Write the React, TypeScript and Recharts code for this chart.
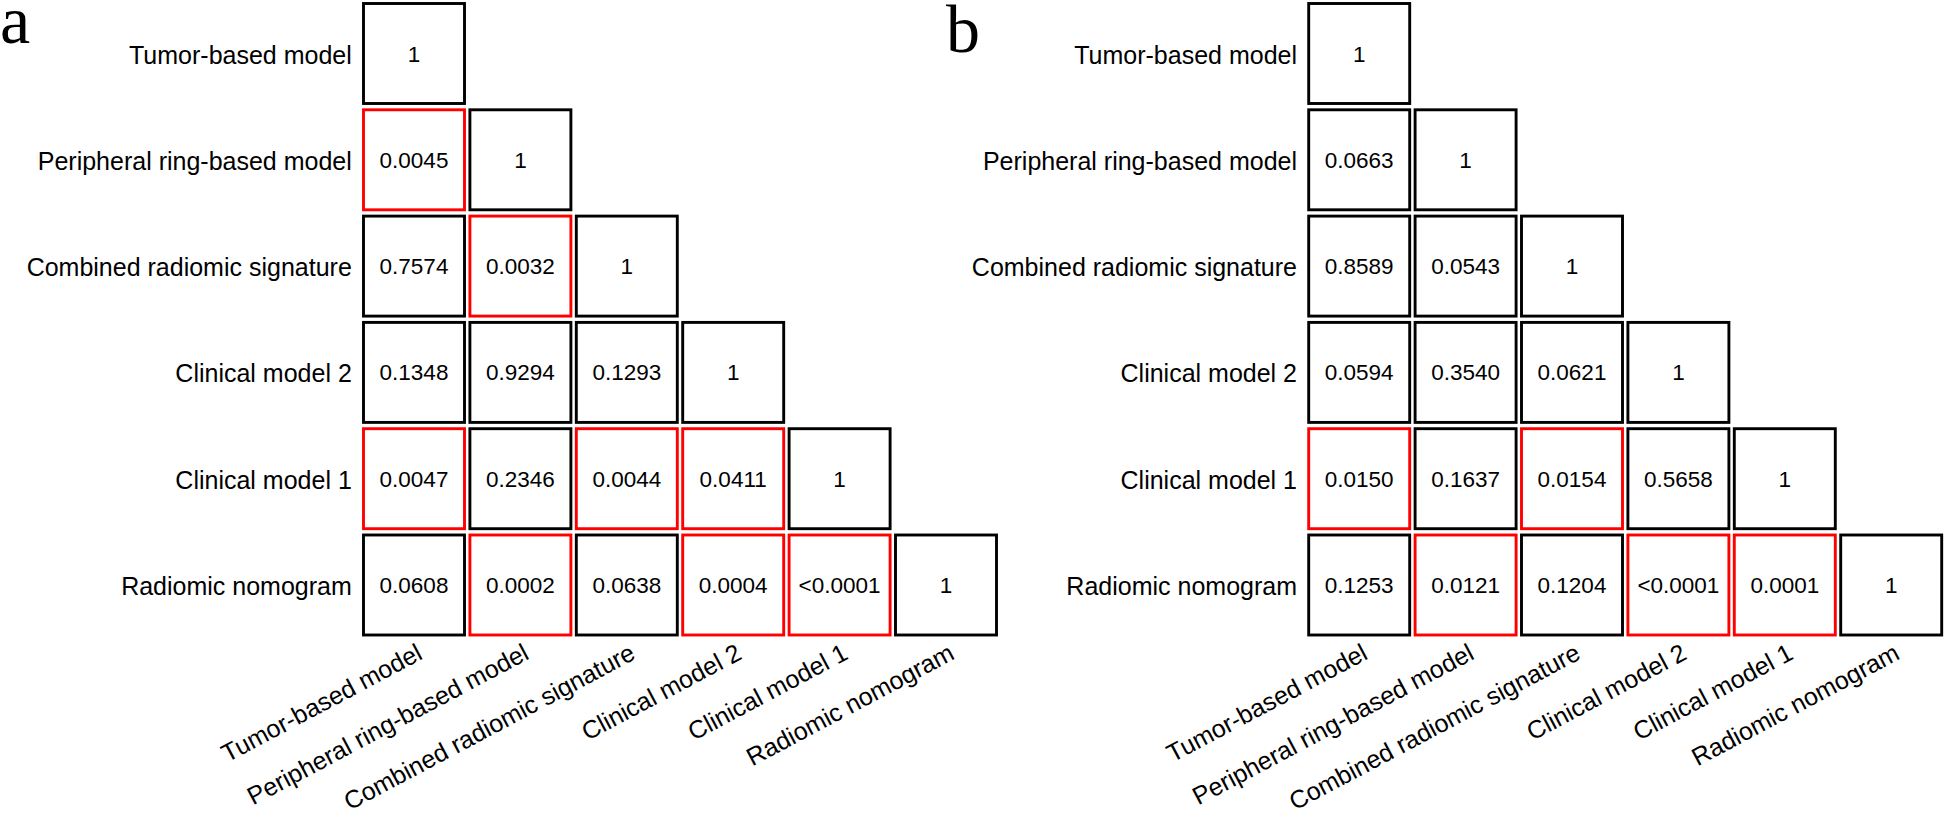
import { ScatterChart, Scatter, XAxis, YAxis } from 'recharts';

const models = [
  'Tumor-based model',
  'Peripheral ring-based model',
  'Combined radiomic signature',
  'Clinical model 2',
  'Clinical model 1',
  'Radiomic nomogram',
];

// lower-triangle p values, row by row
const pA = [
  ['1'],
  ['0.0045', '1'],
  ['0.7574', '0.0032', '1'],
  ['0.1348', '0.9294', '0.1293', '1'],
  ['0.0047', '0.2346', '0.0044', '0.0411', '1'],
  ['0.0608', '0.0002', '0.0638', '0.0004', '<0.0001', '1'],
];
const pB = [
  ['1'],
  ['0.0663', '1'],
  ['0.8589', '0.0543', '1'],
  ['0.0594', '0.3540', '0.0621', '1'],
  ['0.0150', '0.1637', '0.0154', '0.5658', '1'],
  ['0.1253', '0.0121', '0.1204', '<0.0001', '0.0001', '1'],
];

const ticks = [0.5, 1.5, 2.5, 3.5, 4.5, 5.5];
const SANS = '"Liberation Sans", Arial, sans-serif';

function toCells(rows: string[][]) {
  const out: any[] = [];
  rows.forEach((r, i) =>
    r.forEach((v, j) => {
      const num = v.startsWith('<') ? 0 : parseFloat(v);
      out.push({ x: j + 0.5, y: i + 0.5, label: v, sig: num < 0.05 });
    })
  );
  return out;
}

const CellBox = (props: any) => {
  const { cx, cy, payload } = props;
  const w = 101, h = 100;
  return (
    <g>
      <rect x={cx - w / 2} y={cy - h / 2} width={w} height={h} fill="#fff"
        stroke={payload.sig ? '#ff0000' : '#000'} strokeWidth={2.9} />
      <text x={cx} y={cy + 8} textAnchor="middle" fontSize={22.5} fontFamily={SANS} fill="#000">
        {payload.label}
      </text>
    </g>
  );
};

const YTick = (props: any) => {
  const { x, y, payload } = props;
  return (
    <text x={x} y={y + 10} textAnchor="end" fontSize={25} fontFamily={SANS} fill="#000">
      {models[Math.floor(payload.value)]}
    </text>
  );
};

const XTick = (props: any) => {
  const { x, y, payload } = props;
  return (
    <text transform={`translate(${x + 10},${y + 20}) rotate(-28)`} textAnchor="end"
      fontSize={25} fontFamily={SANS} fill="#000">
      {models[Math.floor(payload.value)]}
    </text>
  );
};

function Panel({ rows, left, yw }: { rows: string[][]; left: number; yw: number }) {
  const W = 1000;
  const pw = 638.4;
  return (
    <div style={{ position: 'absolute', left, top: 0 }}>
      <ScatterChart width={W} height={817} margin={{ top: 0.35, right: W - yw - pw, bottom: 0, left: 0 }}>
        <XAxis type="number" dataKey="x" domain={[0, 6]} ticks={ticks} interval={0}
          axisLine={false} tickLine={false} tickSize={0} tickMargin={0} height={178.85} tick={<XTick />} />
        <YAxis type="number" dataKey="y" domain={[0, 6]} ticks={ticks} interval={0} reversed
          axisLine={false} tickLine={false} tickSize={0} tickMargin={9} width={yw} tick={<YTick />} />
        <Scatter data={toCells(rows)} shape={<CellBox />} isAnimationActive={false} />
      </ScatterChart>
    </div>
  );
}

export default function App() {
  return (
    <div style={{ position: 'relative', width: 1946, height: 817, background: '#fff' }}>
      <style>{'body{margin:0}'}</style>
      <Panel rows={pA} left={0} yw={360.8} />
      <Panel rows={pB} left={946} yw={360} />
      <svg width={1946} height={817} style={{ position: 'absolute', left: 0, top: 0, pointerEvents: 'none' }}>
        <text x={0} y={43} fontSize={68} fontFamily='"Liberation Serif", "Times New Roman", serif'>a</text>
        <text x={946} y={51.5} fontSize={68} fontFamily='"Liberation Serif", "Times New Roman", serif'>b</text>
      </svg>
    </div>
  );
}
